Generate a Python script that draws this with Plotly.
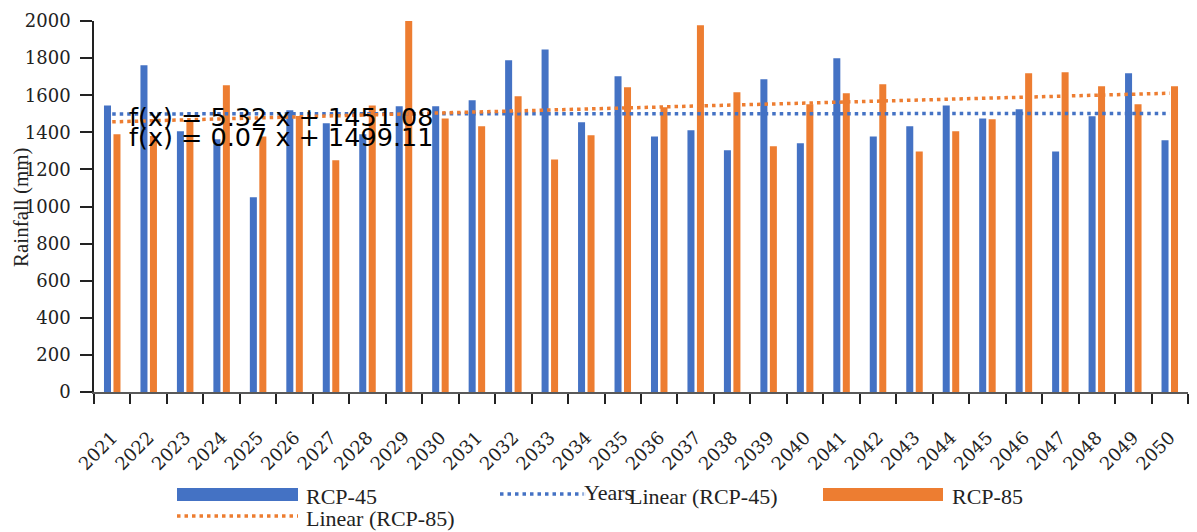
import plotly.graph_objects as go

years = [str(y) for y in range(2021, 2051)]
rcp45 = [1545, 1761, 1405, 1362, 1050, 1519, 1449, 1390, 1540, 1540,
         1573, 1788, 1847, 1454, 1702, 1378, 1411, 1303, 1686, 1341,
         1799, 1378, 1432, 1545, 1475, 1524, 1297, 1486, 1718, 1357]
rcp85 = [1389, 1380, 1460, 1653, 1378, 1488, 1249, 1545, 2000, 1475,
         1432, 1594, 1254, 1384, 1643, 1535, 1977, 1616, 1325, 1551,
         1610, 1659, 1297, 1405, 1470, 1718, 1724, 1648, 1551, 1648]
# trend-line coefficients (slope, intercept) as given in the chart labels
trend45 = (0.07, 1499.11)
trend85 = (5.32, 1451.08)
eq45 = "f(x) = 0.07 x + 1499.11"
eq85 = "f(x) = 5.32 x + 1451.08"

BLUE = "#4472C4"
ORANGE = "#ED7D31"
SERIF = "DejaVu Serif"
LSERIF = "Liberation Serif"

idx = list(range(1, len(years) + 1))
t45 = [trend45[0] * i + trend45[1] for i in idx]
t85 = [trend85[0] * i + trend85[1] for i in idx]

fig = go.Figure()
fig.add_trace(go.Bar(x=years, y=rcp45, name="RCP-45", marker_color=BLUE, marker_line_width=0))
fig.add_trace(go.Bar(x=years, y=rcp85, name="RCP-85", marker_color=ORANGE, marker_line_width=0))
fig.add_trace(go.Scatter(x=years, y=t45, mode="lines", name="Linear (RCP-45)",
                         line=dict(color=BLUE, width=3.5, dash="3.5px,4px")))
fig.add_trace(go.Scatter(x=years, y=t85, mode="lines", name="Linear (RCP-85)",
                         line=dict(color=ORANGE, width=3.5, dash="3.5px,4px")))

fig.update_layout(
    width=1197, height=532,
    margin=dict(l=94, r=9, t=21, b=140, autoexpand=False),
    paper_bgcolor="white", plot_bgcolor="white",
    showlegend=False,
    barmode="group", bargap=0.48, bargroupgap=0.26,
    font=dict(family=SERIF, size=18, color="#222"),
)
fig.update_xaxes(
    type="category", tickangle=-45,
    showline=True, linecolor="#595959", linewidth=2,
    ticks="outside", tickson="boundaries", ticklen=10, tickwidth=1.5, tickcolor="#222",
    showgrid=False, zeroline=False,
    tickfont=dict(family=SERIF, size=18, color="#222"),
    ticklabelstandoff=26,
)
fig.update_yaxes(
    range=[0, 2000], dtick=200,
    showline=True, linecolor="#222", linewidth=1.5,
    ticks="outside", ticklen=12, tickwidth=1.5, tickcolor="#222",
    showgrid=False, zeroline=False,
    tickfont=dict(family=SERIF, size=18, color="#222"),
    ticklabelstandoff=6,
)

W = 1094.0
H = 371.0
def px(x):
    return (x - 94) / W
def py(y):
    return (392 - y) / H

# equations
fig.add_annotation(text=eq85, xref="paper", yref="paper", x=px(127), y=py(117),
                   xanchor="left", yanchor="middle", showarrow=False,
                   font=dict(family="DejaVu Sans", size=25.5, color="black"))
fig.add_annotation(text=eq45, xref="paper", yref="paper", x=px(127), y=py(137),
                   xanchor="left", yanchor="middle", showarrow=False,
                   font=dict(family="DejaVu Sans", size=25.5, color="black"))

# axis titles
fig.add_annotation(text="Rainfall (mm)", xref="paper", yref="paper", x=px(21), y=py(207),
                   xanchor="center", yanchor="middle", textangle=-90, showarrow=False,
                   font=dict(family=LSERIF, size=21, color="#222"))

# custom legend
lf = dict(family=LSERIF, size=22, color="#222")
fig.add_shape(type="rect", xref="paper", yref="paper", x0=px(177), x1=px(298),
              y0=py(501), y1=py(488), fillcolor=BLUE, line_width=0)
fig.add_annotation(text="RCP-45", xref="paper", yref="paper", x=px(304), y=py(496),
                   xanchor="left", yanchor="middle", showarrow=False, font=lf)
fig.add_shape(type="line", xref="paper", yref="paper", x0=px(500), x1=px(621),
              y0=py(494), y1=py(494), line=dict(color=BLUE, width=3.5, dash="3.5px,4px"))
fig.add_annotation(text="Years", xref="paper", yref="paper", x=px(608), y=py(492),
                   xanchor="center", yanchor="middle", showarrow=False, font=lf,
                   bgcolor="rgba(255,255,255,0.9)", borderpad=0)
fig.add_annotation(text="Linear (RCP-45)", xref="paper", yref="paper", x=px(627), y=py(496),
                   xanchor="left", yanchor="middle", showarrow=False, font=lf)
fig.add_shape(type="rect", xref="paper", yref="paper", x0=px(823), x1=px(943),
              y0=py(501), y1=py(488), fillcolor=ORANGE, line_width=0)
fig.add_annotation(text="RCP-85", xref="paper", yref="paper", x=px(950), y=py(496),
                   xanchor="left", yanchor="middle", showarrow=False, font=lf)
fig.add_shape(type="line", xref="paper", yref="paper", x0=px(177), x1=px(298),
              y0=py(516), y1=py(516), line=dict(color=ORANGE, width=3.5, dash="3.5px,4px"))
fig.add_annotation(text="Linear (RCP-85)", xref="paper", yref="paper", x=px(304), y=py(518),
                   xanchor="left", yanchor="middle", showarrow=False, font=lf)

fig.write_html("out.html")
